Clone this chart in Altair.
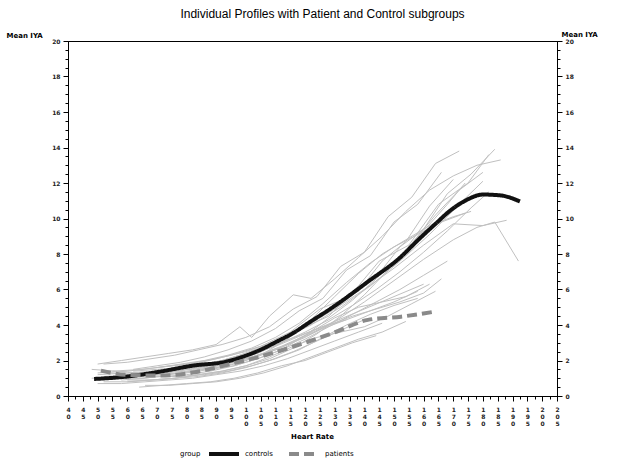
import altair as alt
import pandas as pd

title_text = "Individual Profiles with Patient and Control subgroups"
y_title = "Mean IYA"
x_title = "Heart Rate"

x_tick_values = list(range(40, 210, 5))
x_minor_values = [40 + 2.5 * i for i in range(67)]
y_tick_values = [0, 2, 4, 6, 8, 10, 12, 14, 16, 18, 20]
y_minor_values = [0.5 * i for i in range(41)]

group_names = ["controls", "patients"]

control_mean_hr = [48.8, 59.6, 70.9, 82.1, 93.5, 99.1, 104.9, 110.5, 116.1, 121.2, 129.6, 141.2, 152.4, 158.2, 164.0, 169.0, 174.0, 180.0, 186.0, 192.5]
control_mean_val = [0.96, 1.09, 1.37, 1.71, 1.94, 2.22, 2.60, 3.07, 3.56, 4.12, 5.03, 6.44, 7.85, 8.80, 9.70, 10.45, 11.00, 11.35, 11.30, 10.96]

patient_mean_hr = [51.1, 59.6, 70.9, 82.1, 93.5, 104.9, 116.1, 121.2, 129.6, 141.2, 152.4, 164.0]
patient_mean_val = [1.43, 1.19, 1.15, 1.32, 1.75, 2.22, 2.79, 3.07, 3.56, 4.29, 4.47, 4.76]

subject_hr = [
    [48, 56, 64, 72, 80, 88, 96, 104, 112, 120, 128, 136, 144, 152, 160, 168, 176, 184],
    [52, 60, 68, 76, 84, 92, 100, 108, 116, 124, 132, 140, 148, 156, 164, 172],
    [50, 58, 66, 74, 82, 90, 98, 102, 108, 116, 122, 130, 138, 146, 154, 162, 170, 178, 186],
    [60, 70, 80, 90, 100, 110, 120, 130, 140, 150, 160, 170, 178, 184, 192],
    [55, 65, 75, 85, 95, 105, 115, 125, 135, 145, 155, 165, 175, 182],
    [64, 72, 80, 88, 96, 104, 112, 120, 128, 136, 144, 152, 160, 168, 174],
    [58, 66, 74, 82, 90, 98, 106, 114, 122, 130, 138, 146, 154, 162, 170, 176],
    [50, 60, 70, 80, 90, 100, 110, 120, 130, 140, 150, 160, 170, 180, 188],
    [62, 70, 78, 86, 94, 102, 110, 118, 126, 134, 142, 150, 158, 166],
    [56, 64, 72, 80, 88, 96, 104, 112, 120, 128, 136, 144, 152, 160, 168, 176, 182],
    [66, 74, 82, 90, 98, 106, 114, 122, 130, 138, 146, 154, 162, 170],
    [52, 62, 72, 82, 92, 102, 112, 122, 132, 142, 152, 162, 172, 180],
    [70, 78, 86, 94, 102, 110, 118, 126, 134, 142, 150, 158, 166, 174],
    [60, 68, 76, 84, 92, 100, 108, 116, 124, 132, 140, 148, 156, 164, 172, 180],
    [50, 58, 66, 74, 82, 90, 98, 106, 114, 122, 130, 138, 146],
    [54, 62, 70, 78, 86, 94, 102, 110, 118, 126, 134, 142, 150, 158],
    [60, 68, 76, 84, 92, 100, 108, 116, 124, 132, 140],
    [48, 56, 64, 72, 80, 88, 96, 104, 112, 120, 128, 136, 144, 152, 160, 166],
    [66, 74, 82, 90, 98, 106, 114, 122, 130, 138, 146, 154],
    [56, 64, 72, 80, 88, 96, 104, 112, 120, 128, 136, 144, 152, 160, 168],
    [62, 70, 78, 86, 94, 102, 110, 118, 126, 134],
    [52, 60, 68, 76, 84, 92, 100, 108, 116, 124, 132, 140, 148, 156, 164],
    [70, 78, 86, 94, 102, 110, 118, 126, 134, 142, 150, 158],
    [58, 66, 74, 82, 90, 98, 106, 114, 122, 130, 138, 146, 154, 162],
    [64, 72, 80, 88, 96, 104, 112, 120, 128, 136, 144],
    [50, 60, 70, 80, 90, 100, 110, 120, 130, 140, 150, 160],
]
subject_val = [
    [1.0, 1.1, 1.2, 1.3, 1.5, 1.7, 2.0, 2.4, 3.0, 3.9, 4.5, 5.8, 6.7, 8.4, 9.4, 11.4, 12.5, 13.9],
    [1.8, 1.9, 2.1, 2.3, 2.6, 2.9, 3.3, 3.9, 4.9, 5.6, 7.3, 8.1, 10.1, 11.2, 13.1, 13.8],
    [1.8, 2.0, 2.2, 2.4, 2.6, 2.9, 3.9, 3.3, 4.5, 5.7, 5.5, 6.6, 7.8, 9.0, 10.4, 11.6, 12.4, 13.0, 13.3],
    [1.2, 1.3, 1.5, 1.8, 2.1, 2.6, 3.3, 4.2, 5.3, 6.5, 7.7, 8.8, 9.5, 9.8, 7.6],
    [1.4, 1.5, 1.7, 1.9, 2.3, 2.8, 3.6, 4.9, 5.6, 7.6, 8.5, 10.8, 12.0, 13.6],
    [1.1, 1.2, 1.3, 1.5, 1.7, 2.1, 2.6, 3.4, 4.4, 5.4, 6.6, 7.9, 9.3, 10.8, 12.0],
    [0.9, 1.0, 1.2, 1.4, 1.6, 1.9, 2.4, 3.2, 4.3, 5.6, 6.9, 8.0, 8.8, 9.6, 10.1, 10.4],
    [1.3, 1.4, 1.6, 1.8, 2.1, 2.5, 3.1, 3.9, 4.9, 6.0, 7.2, 8.5, 9.7, 9.6, 9.9],
    [1.5, 1.7, 1.9, 2.2, 2.6, 3.1, 3.8, 4.8, 5.5, 7.1, 7.9, 9.8, 10.8, 12.6],
    [1.0, 1.1, 1.3, 1.5, 1.8, 2.1, 2.5, 3.0, 3.6, 4.3, 5.1, 6.0, 7.0, 8.1, 9.3, 10.6, 11.5],
    [1.2, 1.4, 1.6, 1.9, 2.3, 2.8, 3.4, 4.1, 5.2, 5.9, 7.6, 8.7, 10.7, 12.2],
    [1.1, 1.2, 1.4, 1.7, 2.0, 2.5, 3.2, 4.0, 5.0, 6.2, 7.6, 9.1, 10.8, 12.1],
    [1.6, 1.8, 2.0, 2.3, 2.7, 3.3, 4.1, 5.2, 6.4, 7.5, 8.4, 9.1, 9.8, 10.3],
    [0.8, 0.9, 1.0, 1.2, 1.4, 1.7, 2.1, 2.7, 3.5, 4.5, 5.7, 7.1, 8.6, 10.2, 11.6, 12.6],
    [0.7, 0.7, 0.8, 0.9, 1.0, 1.2, 1.4, 1.7, 2.1, 2.6, 3.1, 3.6, 4.1],
    [1.3, 1.2, 1.2, 1.3, 1.5, 1.7, 2.1, 2.6, 3.2, 3.8, 4.3, 4.8, 5.3, 5.9],
    [0.9, 0.9, 1.0, 1.1, 1.3, 1.6, 2.0, 2.5, 3.1, 3.7, 4.3],
    [1.5, 1.4, 1.3, 1.3, 1.4, 1.6, 1.9, 2.3, 2.8, 3.4, 4.0, 4.5, 4.9, 5.3, 5.8, 6.6],
    [0.6, 0.6, 0.7, 0.8, 1.0, 1.3, 1.7, 2.2, 2.7, 3.2, 3.6, 4.2],
    [1.0, 1.0, 1.1, 1.2, 1.4, 1.7, 2.1, 2.6, 3.2, 3.9, 4.6, 5.3, 6.0, 6.8, 7.6],
    [1.4, 1.5, 1.6, 1.8, 2.0, 2.4, 2.9, 3.4, 3.9, 4.3],
    [0.8, 0.8, 0.9, 1.0, 1.2, 1.4, 1.7, 2.2, 2.8, 3.3, 3.6, 3.9, 4.5, 5.2, 5.9],
    [1.1, 1.1, 1.2, 1.4, 1.7, 2.1, 2.6, 3.3, 4.0, 4.6, 5.1, 5.5],
    [1.2, 1.3, 1.4, 1.5, 1.7, 2.0, 2.4, 2.9, 3.6, 4.4, 5.0, 5.3, 5.6, 6.3],
    [0.5, 0.6, 0.7, 0.8, 1.0, 1.3, 1.7, 2.0, 2.5, 3.0, 3.4],
    [1.2, 1.3, 1.4, 1.6, 1.9, 2.3, 2.8, 3.5, 4.2, 4.9, 5.6, 6.3],
]

rows = []
for sid, (hrs, vals) in enumerate(zip(subject_hr, subject_val)):
    for h, v in zip(hrs, vals):
        rows.append({"subject": sid, "hr": h, "val": v})
profiles_df = pd.DataFrame(rows)

mean_rows = []
for h, v in zip(control_mean_hr, control_mean_val):
    mean_rows.append({"group": "controls", "hr": h, "val": v})
for h, v in zip(patient_mean_hr, patient_mean_val):
    mean_rows.append({"group": "patients", "hr": h, "val": v})
means_df = pd.DataFrame(mean_rows)

xscale = alt.Scale(domain=[40, 205], nice=False, zero=False)
yscale = alt.Scale(domain=[0, 20], nice=False, zero=False)

label_font = "DejaVu Sans"

x_axis = alt.Axis(
    values=x_tick_values, labelExpr="split(datum.label, '')", title=x_title,
    labelFontSize=6, labelLineHeight=7, labelAngle=0, labelPadding=5, tickSize=5,
    labelFont=label_font, labelColor="#222", labelFontWeight="bold", labelOverlap=False, labelFlush=False,
    titleFont=label_font, titleFontSize=7, titleFontWeight="bold", titlePadding=6,
    titleX=244, domainColor="black", tickColor="black", grid=False,
)
y_left_axis = alt.Axis(
    values=y_tick_values, title=y_title, orient="left", tickSize=5, labelPadding=3,
    labelFontSize=6, labelFont=label_font, labelColor="#222", labelFontWeight="bold",
    titleAngle=0, titleAlign="left", titleBaseline="bottom", titleX=-62, titleY=-3,
    titleFont=label_font, titleFontSize=7, titleFontWeight="bold",
    domainColor="black", tickColor="black", grid=False, labelFlush=False,
)
y_right_axis = alt.Axis(
    values=y_tick_values, title=y_title, orient="right", tickSize=5, labelPadding=3,
    labelFontSize=6, labelFont=label_font, labelColor="#222", labelFontWeight="bold",
    titleAngle=0, titleAlign="left", titleBaseline="bottom", titleX=4, titleY=-4,
    titleFont=label_font, titleFontSize=7, titleFontWeight="bold",
    domainColor="black", tickColor="black", grid=False, labelFlush=False,
)

profiles = alt.Chart(profiles_df).mark_line(color="#c0c0c0", strokeWidth=1).encode(
    x=alt.X("hr:Q", scale=xscale, axis=x_axis),
    y=alt.Y("val:Q", scale=yscale, axis=y_left_axis),
    detail="subject:N",
)

means = alt.Chart(means_df).mark_line(strokeWidth=4, interpolate="monotone").encode(
    x=alt.X("hr:Q", scale=xscale, axis=None),
    y=alt.Y("val:Q", scale=yscale, axis=None),
    color=alt.Color("group:N", scale=alt.Scale(domain=group_names, range=["#111111", "#8a8a8a"]),
                    title="group"),
    strokeDash=alt.StrokeDash("group:N", scale=alt.Scale(domain=group_names, range=[[1, 0], [10, 5]]),
                              title="group"),
)

right_axis_layer = alt.Chart(profiles_df).mark_point(opacity=0).encode(
    x=alt.X("hr:Q", scale=xscale, axis=None),
    y=alt.Y("val:Q", scale=yscale, axis=y_right_axis),
)

x_minor = alt.Chart(profiles_df).mark_point(opacity=0).encode(
    x=alt.X("hr:Q", scale=xscale, axis=alt.Axis(values=x_minor_values, labels=False, title=None,
                                                 tickSize=3, domain=False, tickColor="black", grid=False, orient="bottom")),
    y=alt.Y("val:Q", scale=yscale, axis=None),
)
y_minor_left = alt.Chart(profiles_df).mark_point(opacity=0).encode(
    x=alt.X("hr:Q", scale=xscale, axis=None),
    y=alt.Y("val:Q", scale=yscale, axis=alt.Axis(values=y_minor_values, labels=False, title=None,
                                                  tickSize=3, domain=False, tickColor="black", grid=False, orient="left")),
)
y_minor_right = alt.Chart(profiles_df).mark_point(opacity=0).encode(
    x=alt.X("hr:Q", scale=xscale, axis=None),
    y=alt.Y("val:Q", scale=yscale, axis=alt.Axis(values=y_minor_values, labels=False, title=None,
                                                  tickSize=3, domain=False, tickColor="black", grid=False, orient="right")),
)

chart = alt.layer(
    profiles, means, right_axis_layer, x_minor, y_minor_left, y_minor_right
).resolve_axis(x="independent", y="independent").properties(
    width=489, height=355,
    autosize=alt.AutoSizeParams(type="none"),
    padding={"left": 68, "top": 41, "right": 64, "bottom": 66},
    title=alt.TitleParams(title_text, font="Liberation Sans", fontSize=12, fontWeight="normal",
                          anchor="middle", offset=9, dx=10, color="black"),
).configure_view(stroke="black", strokeWidth=1).configure_legend(
    orient="none", legendX=112, legendY=396, direction="horizontal",
    titleOrient="left", titleFont=label_font, titleFontSize=7, titleFontWeight="normal",
    titleBaseline="top", titleAnchor="middle",
    labelFont=label_font, labelFontSize=7, symbolType="stroke", symbolStrokeWidth=4,
    symbolSize=900, columnPadding=8, titlePadding=6,
)

chart.save("out.html", embed_options={"renderer": "svg", "actions": False})
